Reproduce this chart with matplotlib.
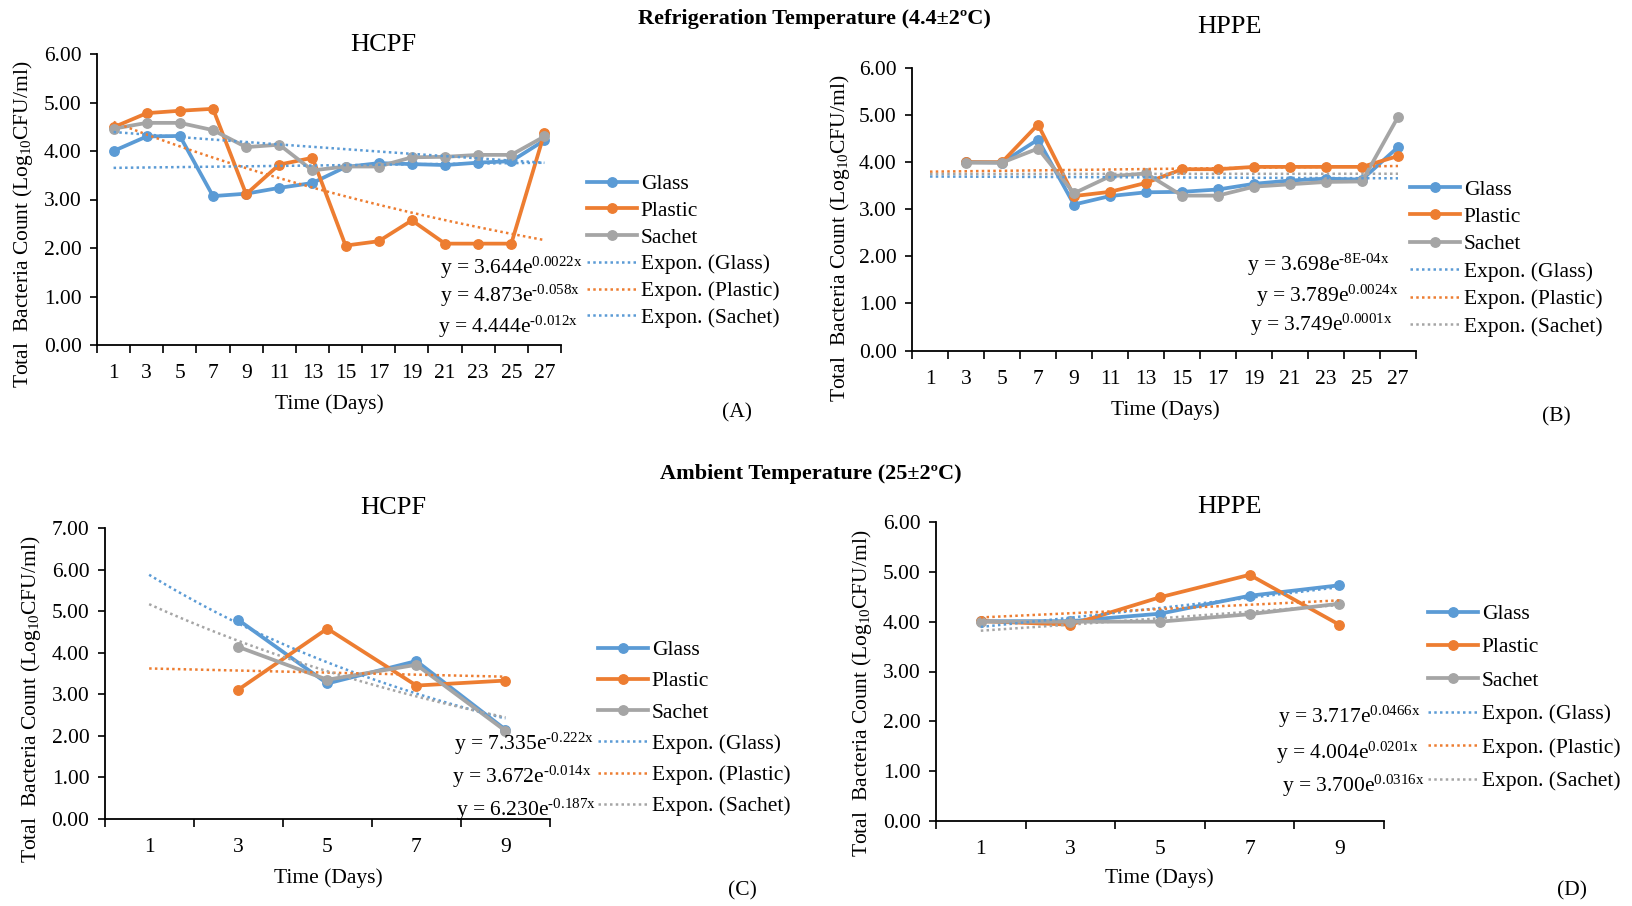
import numpy as np
import matplotlib
matplotlib.use('Agg')
import matplotlib.pyplot as plt
from matplotlib.lines import Line2D

plt.rcParams['font.family'] = ['Liberation Serif', 'DejaVu Serif']
plt.rcParams['mathtext.fontset'] = 'custom'
plt.rcParams['mathtext.rm'] = 'Liberation Serif'
plt.rcParams['mathtext.it'] = 'Liberation Serif:italic'
plt.rcParams['mathtext.bf'] = 'Liberation Serif:bold'

# ---------------- data ----------------
days_ref = [1, 3, 5, 7, 9, 11, 13, 15, 17, 19, 21, 23, 25, 27]
days_amb = [1, 3, 5, 7, 9]
series_names = ['Glass', 'Plastic', 'Sachet']

# (A) refrigeration, HCPF
a_glass = [4.00, 4.30, 4.31, 3.07, 3.12, 3.24, 3.34, 3.67, 3.75, 3.73, 3.71, 3.76, 3.79, 4.22]
a_plastic = [4.49, 4.78, 4.83, 4.87, 3.11, 3.72, 3.86, 2.05, 2.14, 2.57, 2.09, 2.09, 2.09, 4.37]
a_sachet = [4.46, 4.58, 4.58, 4.43, 4.08, 4.13, 3.60, 3.68, 3.68, 3.87, 3.88, 3.92, 3.92, 4.30]
a_eq = [('3.644', '0.0022'), ('4.873', '-0.058'), ('4.444', '-0.012')]

# (B) refrigeration, HPPE
b_glass = [np.nan, 4.00, 3.99, 4.48, 3.10, 3.28, 3.36, 3.37, 3.42, 3.54, 3.61, 3.65, 3.63, 4.32]
b_plastic = [np.nan, 4.00, 4.00, 4.80, 3.28, 3.37, 3.56, 3.85, 3.85, 3.90, 3.90, 3.90, 3.90, 4.13]
b_sachet = [np.nan, 3.99, 3.99, 4.29, 3.34, 3.70, 3.76, 3.29, 3.29, 3.48, 3.53, 3.58, 3.59, 4.96]
b_eq = [('3.698', '-8E-04'), ('3.789', '0.0024'), ('3.749', '0.0001')]

# (C) ambient, HCPF
c_glass = [np.nan, 4.79, 3.26, 3.80, 2.15]
c_plastic = [np.nan, 3.11, 4.58, 3.21, 3.33]
c_sachet = [np.nan, 4.14, 3.35, 3.71, 2.12]
c_eq = [('7.335', '-0.222'), ('3.672', '-0.014'), ('6.230', '-0.187')]

# (D) ambient, HPPE
d_glass = [4.01, 4.01, 4.16, 4.52, 4.73]
d_plastic = [4.01, 3.94, 4.49, 4.94, 3.94]
d_sachet = [4.00, 4.00, 4.00, 4.15, 4.36]
d_eq = [('3.717', '0.0466'), ('4.004', '0.0201'), ('3.700', '0.0316')]

BLUE, ORANGE, GRAY = '#5B9BD5', '#ED7D31', '#A5A5A5'
colors = [BLUE, ORANGE, GRAY]

W, H = 1633, 906
fig = plt.figure(figsize=(W / 100, H / 100), dpi=100)


def rect(l, t, r, b):
    return [l / W, 1 - b / H, (r - l) / W, (b - t) / H]


def ftext(x, y, s, **kw):
    fig.text(x / W, 1 - y / H, s, **kw)


def eqstr(a, b):
    bb = b.replace('-', '\u2010')
    return 'y = ' + a + 'e$^{\\mathrm{' + bb + 'x}}$'


FS = 15.5


def panel(r, days, series, ymax, eqs, tcolors, leg_xy, leg_spacing, eq_pos,
          title, title_xy, ylab_xy, xlab_xy, letter, letter_xy):
    ax = fig.add_axes(rect(*r))
    n = len(days)
    x = np.arange(n)
    for vals, c in zip(series, colors):
        ax.plot(x, vals, color=c, lw=2.7, marker='o', ms=6.8, zorder=3,
                solid_joinstyle='round')
    xx = np.linspace(0, n - 1, 200)
    for (a_s, b_s), c in zip(eqs, tcolors):
        bnum = float(b_s)
        ax.plot(xx, float(a_s) * np.exp(bnum * (xx + 1)), color=c, lw=1.8,
                ls=(0, (1, 1.3)), zorder=4)
    ax.set_xlim(-0.5, n - 0.5)
    ax.set_ylim(0, ymax)
    ax.set_xticks(x)
    ax.set_xticklabels([str(d) for d in days], fontsize=FS)
    ax.set_xticks(np.arange(n + 1) - 0.5, minor=True)
    ax.tick_params(axis='x', which='major', length=0, pad=14)
    ax.tick_params(axis='x', which='minor', length=6, width=1.2, direction='out')
    yt = np.arange(0, ymax + 0.001, 1.0)
    ax.set_yticks(yt)
    ax.set_yticklabels([f'{v:.2f}' for v in yt], fontsize=FS)
    ax.tick_params(axis='y', length=5, width=1.2, direction='out', pad=6)
    for s in ['top', 'right']:
        ax.spines[s].set_visible(False)
    for s in ['left', 'bottom']:
        ax.spines[s].set_linewidth(1.3)

    handles = [Line2D([], [], color=c, lw=2.7, marker='o', ms=6.8) for c in colors]
    handles += [Line2D([], [], color=c, lw=1.8, ls=(0, (1, 1.3))) for c in tcolors]
    labels = series_names + [f'Expon. ({s})' for s in series_names]
    fig.legend(handles, labels, loc='upper left',
               bbox_to_anchor=(leg_xy[0] / W, 1 - leg_xy[1] / H),
               frameon=False, borderpad=0, borderaxespad=0, handlelength=2.3,
               handletextpad=0.2, labelspacing=leg_spacing, fontsize=FS)
    for (a_s, b_s), (ex, ey) in zip(eqs, eq_pos):
        ftext(ex, ey, eqstr(a_s, b_s), ha='right', va='center', fontsize=FS)
    ftext(*title_xy, title, ha='center', va='center', fontsize=19)
    ftext(*ylab_xy, 'Total  Bacteria Count (Log$_{10}$CFU/ml)', rotation=90,
          ha='center', va='center', fontsize=FS)
    ftext(*xlab_xy, 'Time (Days)', ha='center', va='center', fontsize=FS)
    ftext(*letter_xy, letter, ha='center', va='center', fontsize=FS)
    return ax


panel((97, 54, 561, 345), days_ref, [a_glass, a_plastic, a_sachet], 6, a_eq,
      [BLUE, ORANGE, BLUE], (587, 174), 0.31,
      [(582, 268), (580, 296), (578, 326.5)],
      'HCPF', (383, 45), (23, 224), (329, 404), '(A)', (737, 413))

panel((912, 68, 1416, 350.5), days_ref, [b_glass, b_plastic, b_sachet], 6, b_eq,
      [BLUE, ORANGE, GRAY], (1410, 179.5), 0.34,
      [(1390, 264.5), (1398, 296), (1392, 325)],
      'HPPE', (1229, 27), (840, 238), (1165, 410), '(B)', (1556, 417))

panel((104.6, 528, 550, 819), days_amb, [c_glass, c_plastic, c_sachet], 7, c_eq,
      [BLUE, ORANGE, GRAY], (598, 640), 0.52,
      [(594, 743.5), (592, 776.5), (596, 809.5)],
      'HCPF', (393, 508), (31, 699), (328, 878), '(C)', (742, 891))

panel((936, 522, 1384, 821), days_amb, [d_glass, d_plastic, d_sachet], 6, d_eq,
      [BLUE, ORANGE, GRAY], (1428, 604), 0.62,
      [(1420, 717), (1418, 753), (1424, 786)],
      'HPPE', (1229, 507), (862, 693), (1159, 878), '(D)', (1572, 891))

ftext(814, 19, 'Refrigeration Temperature (4.4±2ºC)', ha='center', va='center',
      fontsize=16, fontweight='bold')
ftext(811, 474, 'Ambient Temperature (25±2ºC)', ha='center', va='center',
      fontsize=16, fontweight='bold')

fig.savefig('out.png', dpi=100)
